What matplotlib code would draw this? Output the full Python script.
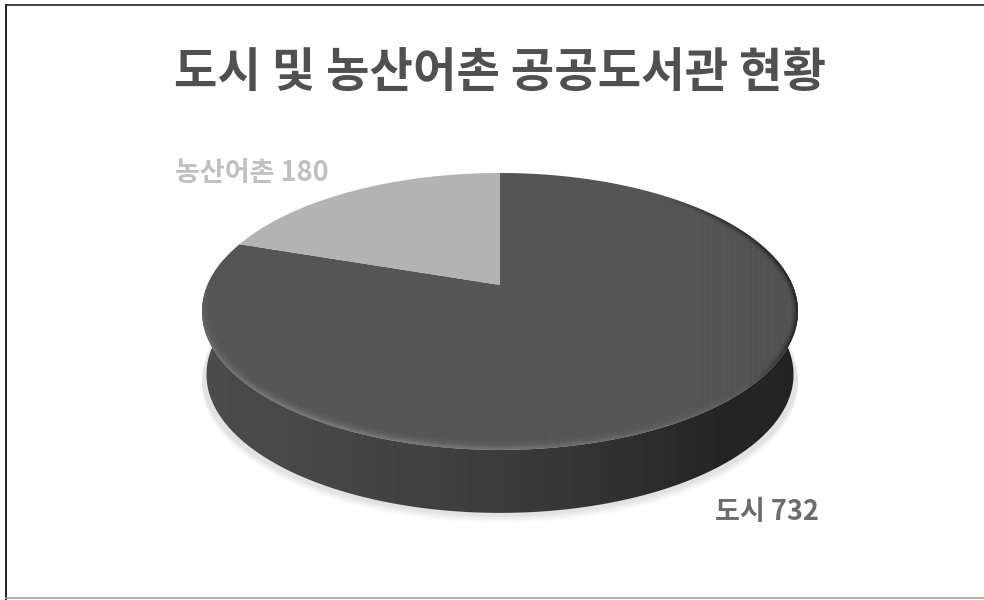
import numpy as np
import matplotlib
matplotlib.use("Agg")
import matplotlib.pyplot as plt
from matplotlib.patches import Polygon
from matplotlib.collections import LineCollection

plt.rcParams['font.family'] = ['Noto Sans CJK KR', 'DejaVu Sans']

# === data ===
title = "도시 및 농산어촌 공공도서관 현황"
categories = ["농산어촌", "도시"]
values = [180, 732]

# === pie geometry, in image pixels ===
cx, cy = 500, 285      # apex of the slices
R = 292.5
persp = -0.191         # perspective of the tilted disc
ry = 133.4
depth = 63


def project(theta, scale=1.0, drop=0):
    """theta is clockwise from 12 o'clock; returns pixel x, y on the tilted disc"""
    u = np.sin(theta)
    v = -np.cos(theta)
    w = 1 + persp * v
    return cx + scale * R * u / w, cy + drop + ry * v / w


def rim(t0, t1, scale=1.0, drop=0, n=300):
    x, y = project(np.linspace(t0, t1, n), scale, drop)
    return np.column_stack([x, y])


def soft_arc(t0, t1, color, lw, alpha_ends, clip):
    # arc along the disc edge whose opacity changes from one end to the other
    pts = rim(t0, t1, 1.0, 0, 120)
    segs = np.stack([pts[:-1], pts[1:]], axis=1)
    a = np.interp(np.linspace(0, 1, len(segs)), np.linspace(0, 1, len(alpha_ends)), alpha_ends)
    rgba = np.tile(matplotlib.colors.to_rgba(color), (len(segs), 1))
    rgba[:, 3] = a
    lc = LineCollection(segs, colors=rgba, linewidths=lw, capstyle='butt', zorder=4)
    ax.add_collection(lc)
    lc.set_clip_path(clip)


fig = plt.figure(figsize=(9.84, 6), dpi=100)
ax = fig.add_axes([0, 0, 1, 1])
ax.set_xlim(0, 984)
ax.set_ylim(600, 0)
ax.axis('off')

# frame of the screenshot
ax.plot([5.5, 5.5], [4.5, 600], color='#222222', lw=1.4)
ax.plot([5.5, 984], [5, 5], color='#222222', lw=1.2)
ax.plot([5.5, 984], [598, 598], color='#a0a0a0', lw=1.2)

# soft shadow under the disc
for off, alpha in zip([18, 15, 12, 9, 6], [0.012, 0.018, 0.022, 0.026, 0.03]):
    ax.add_patch(Polygon(rim(0, 2 * np.pi, 1.0, depth + off * 0.6), closed=True,
                         fc='#000000', ec='none', alpha=alpha, zorder=1))

# side wall with left-to-right shading
side_pts = np.vstack([rim(np.pi / 2 - 0.2, 3 * np.pi / 2 + 0.2),
                      rim(3 * np.pi / 2 + 0.2, np.pi / 2 - 0.2, 0.985, depth)])
side = Polygon(side_pts, closed=True, fc='none', ec='none', zorder=2)
ax.add_patch(side)
ramp_pos = [0.0, 0.35, 0.62, 0.85, 0.95, 1.0]
ramp_val = [0x4c, 0x42, 0x36, 0x26, 0x24, 0x22]
g = np.interp(np.linspace(0, 1, 300), ramp_pos, ramp_val) / 255
im = ax.imshow(g[None, :], cmap='gray', vmin=0, vmax=1, aspect='auto',
               extent=[200, 800, 520, 250], zorder=2)
im.set_clip_path(side)

# top of the disc, slices start at 12 o'clock and run clockwise
total = sum(values)
small = 2 * np.pi * values[0] / total
start_big = 2 * np.pi - 2 * np.pi * (values[0] + values[1]) / total

big_pts = np.vstack([[cx, cy], rim(start_big, 2 * np.pi - small)])
big = Polygon(big_pts, closed=True, fc='none', ec='none', zorder=3)
ax.add_patch(big)
g2 = np.interp(np.linspace(0, 1, 600), [0, 0.8, 1], [0x55, 0x55, 0x51])
g2 = g2 + 1.5 * (np.arange(600) % 6 < 2)   # faint vertical stripes of the screenshot
im2 = ax.imshow(g2[None, :] / 255, cmap='gray', vmin=0, vmax=1, aspect='auto',
                extent=[200, 800, 480, 170], zorder=3, interpolation='nearest')
im2.set_clip_path(big)
ax.set_xlim(0, 984)
ax.set_ylim(600, 0)

small_pts = np.vstack([[cx, cy], rim(2 * np.pi - small, 2 * np.pi)])
ax.add_patch(Polygon(small_pts, closed=True, fc='#b3b3b3', ec='none', zorder=3))

# bevel: lighter along the front edge, darker at the right, both inside the disc
for lw, k in zip([12, 8, 5, 3], [0.4, 0.6, 0.8, 1.0]):
    soft_arc(3 * np.pi / 2 + 0.1, np.pi / 2 + 0.3, '#9a9a9a', lw,
             [0.0, 0.12 * k, 0.2 * k, 0.2 * k, 0.12 * k, 0.04 * k, 0.0], big)
for lw, k in zip([8, 5, 3], [0.3, 0.5, 0.9]):
    soft_arc(np.pi * 0.22, np.pi / 2 + 0.75, '#181818', lw,
             [0.0, 0.35 * k, 0.5 * k, 0.5 * k, 0.45 * k, 0.0], big)

# texts
ax.text(500, 73, title, ha='center', va='center', fontsize=34, fontweight='bold',
        color='#505050', zorder=5)
ax.text(175, 173, f"{categories[0]} {values[0]}", ha='left', va='center', fontsize=19.5,
        fontweight='bold', color='#c0c0c0', zorder=5)
ax.text(715, 512, f"{categories[1]} {values[1]}", ha='left', va='center', fontsize=19.5,
        fontweight='bold', color='#6c6c6c', zorder=5)

fig.savefig("out.png", dpi=100)
